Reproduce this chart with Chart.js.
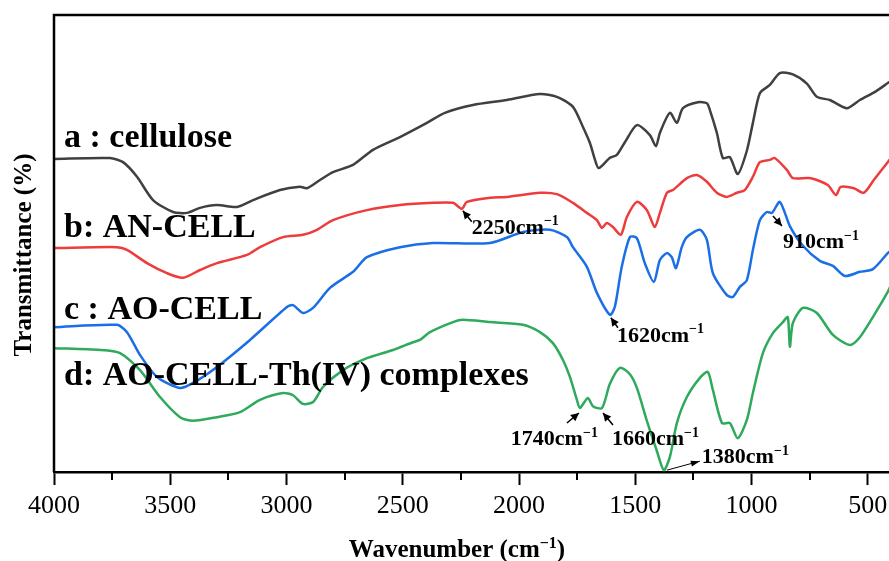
<!DOCTYPE html>
<html>
<head>
<meta charset="utf-8">
<script src="https://cdn.jsdelivr.net/npm/chart.js@4.4.1/dist/chart.umd.min.js"></script>
<style>
  html, body { margin: 0; padding: 0; background: #fff; overflow: hidden; }
  #wrap { width: 900px; height: 561px; }
</style>
</head>
<body>
<div id="wrap"><canvas id="ftir" width="900" height="561"></canvas></div>
<script>
// FTIR spectra, transmittance in arbitrary units (0-100), x = wavenumber (cm-1)

// a: cellulose
const wnA = [4000, 3760, 3703, 3643, 3574, 3488, 3428, 3372, 3299, 3213, 3144, 3028, 2942, 2912, 2856, 2800, 2714, 2628, 2512, 2396, 2319, 2198, 2052, 1910, 1837, 1768, 1725, 1695, 1673, 1657, 1610, 1579, 1544, 1493, 1437, 1411, 1394, 1351, 1321, 1295, 1231, 1192, 1179, 1149, 1123, 1093, 1059, 1020, 994, 964, 921, 878, 822, 762, 719, 663, 590, 534, 465, 414, 400];
const tA  = [68.5, 68.7, 67.8, 64.6, 59.5, 56.9, 56.7, 57.8, 58.4, 58.0, 59.5, 61.7, 62.4, 62.1, 63.9, 65.6, 67.2, 70.5, 73.3, 76.4, 78.6, 80.3, 81.4, 82.7, 82.1, 79.9, 75.5, 72.0, 68.3, 66.5, 68.7, 69.4, 72.2, 75.9, 73.7, 71.3, 74.2, 78.6, 76.4, 79.6, 80.9, 80.7, 79.2, 74.2, 68.7, 68.9, 65.2, 70.3, 76.4, 82.9, 84.7, 87.3, 87.0, 85.0, 82.1, 81.4, 79.6, 81.4, 83.3, 85.1, 85.6];

// b: AN-CELL
const wnB = [4000, 3729, 3686, 3600, 3514, 3445, 3372, 3299, 3170, 3114, 3015, 2929, 2869, 2800, 2654, 2512, 2370, 2284, 2246, 2224, 2125, 2052, 1910, 1837, 1768, 1708, 1665, 1643, 1622, 1596, 1562, 1536, 1493, 1450, 1416, 1394, 1364, 1338, 1278, 1235, 1192, 1149, 1106, 1063, 1029, 994, 964, 921, 900, 848, 822, 745, 672, 637, 616, 560, 517, 474, 414, 400];
const tB  = [49.0, 49.2, 48.6, 45.7, 43.5, 42.5, 44.2, 45.7, 47.5, 49.2, 51.4, 51.9, 53.0, 55.1, 57.3, 58.4, 58.9, 58.9, 57.6, 59.1, 60.0, 60.2, 61.1, 60.8, 58.9, 56.7, 55.1, 53.4, 54.5, 53.6, 51.9, 55.8, 59.1, 57.3, 53.6, 56.7, 61.1, 61.7, 64.3, 65.0, 63.5, 61.1, 60.2, 61.1, 61.7, 64.6, 67.8, 68.3, 68.7, 66.1, 64.3, 64.3, 62.8, 60.6, 62.4, 62.1, 61.1, 63.9, 67.8, 68.8];

// c: AO-CELL
const wnC = [4000, 3729, 3686, 3630, 3557, 3458, 3402, 3299, 3157, 2998, 2972, 2929, 2886, 2813, 2714, 2654, 2512, 2370, 2125, 1983, 1867, 1794, 1768, 1708, 1665, 1609, 1588, 1558, 1523, 1493, 1459, 1420, 1394, 1364, 1343, 1325, 1300, 1278, 1222, 1192, 1166, 1106, 1080, 1050, 1020, 994, 964, 934, 912, 878, 835, 779, 706, 650, 598, 534, 478, 414, 400];
const tC  = [31.7, 32.2, 30.6, 25.6, 20.8, 18.4, 19.5, 23.0, 28.9, 36.1, 36.5, 34.8, 35.9, 40.3, 43.8, 47.0, 49.2, 50.1, 50.1, 52.5, 53.0, 51.4, 49.2, 44.9, 39.2, 34.4, 36.1, 44.9, 51.4, 51.2, 45.7, 41.6, 46.4, 47.9, 47.0, 44.6, 49.2, 51.4, 53.0, 50.8, 43.5, 38.7, 38.3, 40.5, 42.0, 48.6, 55.1, 56.9, 56.7, 59.1, 53.8, 49.5, 46.2, 45.1, 42.9, 43.8, 44.4, 47.9, 48.5];

// d: AO-CELL-Th(IV) complexes
const wnD = [4000, 3802, 3716, 3630, 3544, 3458, 3402, 3299, 3200, 3114, 3015, 2972, 2929, 2886, 2843, 2757, 2654, 2542, 2456, 2426, 2383, 2284, 2241, 2125, 1983, 1910, 1854, 1811, 1781, 1751, 1738, 1704, 1682, 1643, 1609, 1566, 1523, 1493, 1450, 1407, 1377, 1351, 1321, 1278, 1222, 1188, 1166, 1127, 1093, 1059, 1020, 994, 951, 908, 865, 844, 835, 822, 779, 719, 650, 577, 534, 478, 414, 400];
const tD  = [27.1, 26.7, 26.0, 22.3, 16.4, 12.0, 11.2, 12.0, 13.1, 15.8, 17.3, 16.8, 14.9, 15.3, 18.6, 22.3, 24.9, 26.7, 28.4, 28.9, 30.6, 32.8, 33.3, 32.8, 32.2, 30.6, 28.2, 24.5, 20.8, 15.8, 14.0, 16.2, 14.4, 14.0, 19.3, 22.8, 21.4, 18.4, 11.2, 4.6, 0.4, 3.3, 10.7, 16.4, 20.6, 21.9, 17.9, 10.7, 10.7, 7.4, 11.4, 17.3, 26.0, 30.4, 32.8, 33.9, 27.4, 32.6, 35.9, 34.8, 30.0, 27.8, 29.5, 33.9, 39.4, 41.0];

const seriesNames = ['a : cellulose', 'b: AN-CELL', 'c : AO-CELL', 'd: AO-CELL-Th(IV) complexes'];
const seriesColors = ['#404040', '#ee3b3b', '#1b6fe6', '#2fa95b'];

const xTicks = [4000, 3500, 3000, 2500, 2000, 1500, 1000, 500];
const xMinorTicks = [3750, 3250, 2750, 2250, 1750, 1250, 750];

// peak marks: label, which series, wavenumber, transmittance
const peakLabels = ['2250', '1620', '1740', '1660', '1380', '910'];
const peakSeries = [1, 2, 3, 3, 3, 2];
const peakWn = [2246, 1609, 1738, 1643, 1377, 912];
const peakT = [57.6, 34.4, 14.0, 14.0, 0.4, 56.7];

const SERIF = '"Liberation Serif", "Times New Roman", serif';

const toPoints = (wn, t) => wn.map((w, i) => ({ x: w, y: t[i] }));

// draws text pieces, some of them raised as superscripts
function drawRich(ctx, parts, x, y, size, align) {
  const supSize = Math.round(size * 0.62);
  let total = 0;
  const widths = parts.map(p => {
    ctx.font = `bold ${p.sup ? supSize : size}px ${SERIF}`;
    const w = ctx.measureText(p.t).width;
    total += w;
    return w;
  });
  let cx = align === 'right' ? x - total : align === 'center' ? x - total / 2 : x;
  ctx.textAlign = 'left';
  ctx.textBaseline = 'alphabetic';
  parts.forEach((p, i) => {
    ctx.font = `bold ${p.sup ? supSize : size}px ${SERIF}`;
    ctx.fillText(p.t, cx, p.sup ? y - size * 0.38 : y);
    cx += widths[i];
  });
}

function arrow(ctx, hx, hy, tx, ty, headLen, headW) {
  ctx.beginPath();
  ctx.moveTo(tx, ty);
  ctx.lineTo(hx, hy);
  ctx.stroke();
  const ang = Math.atan2(hy - ty, hx - tx);
  ctx.beginPath();
  ctx.moveTo(hx, hy);
  ctx.lineTo(hx - headLen * Math.cos(ang) + headW * Math.sin(ang), hy - headLen * Math.sin(ang) - headW * Math.cos(ang));
  ctx.lineTo(hx - headLen * Math.cos(ang) - headW * Math.sin(ang), hy - headLen * Math.sin(ang) + headW * Math.cos(ang));
  ctx.closePath();
  ctx.fill();
}

const framePlugin = {
  id: 'frame',
  afterDraw(chart) {
    const { ctx, chartArea: ca, scales } = chart;
    const xs = scales.x, ys = scales.y;
    ctx.save();
    ctx.strokeStyle = '#000';
    ctx.fillStyle = '#000';

    // top / left / right frame
    ctx.lineWidth = 2.5;
    ctx.beginPath();
    ctx.moveTo(ca.left, ca.bottom);
    ctx.lineTo(ca.left, ca.top);
    ctx.lineTo(ca.right, ca.top);
    ctx.lineTo(ca.right, ca.bottom);
    ctx.stroke();

    // minor ticks
    ctx.lineWidth = 2;
    xMinorTicks.forEach(v => {
      const px = Math.round(xs.getPixelForValue(v));
      ctx.beginPath();
      ctx.moveTo(px, ca.bottom);
      ctx.lineTo(px, ca.bottom + 8);
      ctx.stroke();
    });

    // axis titles
    drawRich(ctx, [{ t: 'Wavenumber (cm' }, { t: '\u22121', sup: true }, { t: ')' }], 457, 557, 25, 'center');
    ctx.save();
    ctx.translate(31, 255);
    ctx.rotate(-Math.PI / 2);
    ctx.font = `bold 25px ${SERIF}`;
    ctx.textAlign = 'center';
    ctx.textBaseline = 'alphabetic';
    ctx.fillText('Transmittance (%)', 0, 0);
    ctx.restore();

    // curve labels
    const labelBase = [147, 237, 319, 385];
    ctx.font = `bold 34px ${SERIF}`;
    ctx.textAlign = 'left';
    seriesNames.forEach((name, i) => ctx.fillText(name, ca.left + 10, labelBase[i]));

    // peak annotations (offsets in px from the marked point)
    const marks = [
      { hx: 1, hy: 2, tx: 10, ty: 13, lx: 10, ly: 25, align: 'left', thin: false },
      { hx: 1, hy: 3, tx: 8, ty: 13, lx: 7, ly: 27, align: 'left', thin: false },
      { hx: -1, hy: 5, tx: -13, ty: 15, lx: 18, ly: 37, align: 'right', thin: false },
      { hx: 1, hy: 5, tx: 11, ty: 17, lx: 10, ly: 37, align: 'left', thin: false },
      { hx: 36, hy: -9, tx: 3, ty: 0, lx: 38, ly: -7, align: 'left', thin: true },
      { hx: 10, hy: 13, tx: 1, ty: 3, lx: 11, ly: 35, align: 'left', thin: false }
    ];
    peakLabels.forEach((lab, i) => {
      const px = xs.getPixelForValue(peakWn[i]);
      const py = ys.getPixelForValue(peakT[i]);
      const m = marks[i];
      ctx.lineWidth = m.thin ? 1 : 1.5;
      arrow(ctx, px + m.hx, py + m.hy, px + m.tx, py + m.ty, m.thin ? 9 : 8, m.thin ? 3 : 4);
      drawRich(ctx, [{ t: lab + 'cm' }, { t: '\u22121', sup: true }], px + m.lx, py + m.ly, 22, m.align);
    });
    ctx.restore();
  }
};

const datasets = [
  [wnA, tA], [wnB, tB], [wnC, tC], [wnD, tD]
].map(([wn, t], i) => ({
  label: seriesNames[i],
  data: toPoints(wn, t),
  borderColor: seriesColors[i],
  backgroundColor: seriesColors[i],
  borderWidth: 2.5,
  pointRadius: 0,
  tension: 0.25,
  fill: false
}));

new Chart(document.getElementById('ftir'), {
  type: 'line',
  data: { datasets },
  options: {
    responsive: false,
    animation: false,
    layout: { padding: { left: 54, top: 15, right: 9, bottom: 0 } },
    plugins: { legend: { display: false }, tooltip: { enabled: false } },
    scales: {
      x: {
        type: 'linear',
        reverse: true,
        min: 400,
        max: 4000,
        afterBuildTicks: s => { s.ticks = xTicks.map(v => ({ value: v })); },
        afterFit: s => { s.height = 89; },
        grid: { display: true, drawOnChartArea: false, drawTicks: true, tickLength: 13, tickWidth: 2, tickColor: '#000' },
        border: { display: true, color: '#000', width: 2.5 },
        ticks: {
          font: { family: SERIF, size: 26 },
          color: '#000',
          padding: 6,
          maxRotation: 0,
          autoSkip: false,
          callback: v => String(v)
        }
      },
      y: { display: false, min: 0, max: 100 }
    }
  },
  plugins: [framePlugin]
});
</script>
</body>
</html>
